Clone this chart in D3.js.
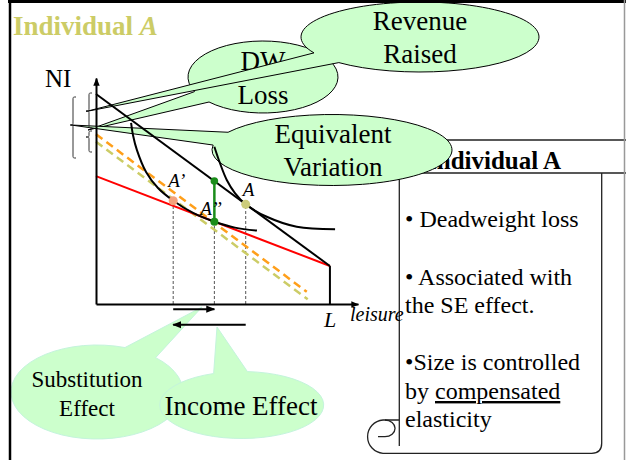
<!DOCTYPE html>
<html><head><meta charset="utf-8">
<script src="https://cdn.jsdelivr.net/npm/d3@7"></script>
<style>
html,body{margin:0;padding:0;background:#fff;}
svg{display:block;font-family:"Liberation Serif","Times New Roman",serif;}
</style></head>
<body><svg id="c" width="626" height="460"></svg>
<script>
// ---- data (leisure units on x, net income units on y) ----
const leisureDomain = [0, 11.2];
const incomeDomain = [0, 10];
const endowmentL = 10;
const budgetOriginal = [[0, 9.29], [10, 1.68]];
const budgetTaxed = [[0, 5.66], [10, 1.68]];
const evLineOrange = [[0, 7.51], [9.01, 0.54]];
const evLineKhaki = [[0, 7.18], [9.05, 0.21]];
const icLow = [[1.50,8.01],[1.58,7.48],[1.75,6.81],[2.14,5.84],[2.65,5.13],[3.29,4.58],[4.15,4.03],[5.04,3.65],[5.94,3.38],[6.88,3.25]];
const icHigh = [[5.06,6.96],[5.30,6.23],[5.59,5.49],[5.94,4.91],[6.40,4.41],[7.30,3.86],[8.58,3.42],[10.22,3.31]];
const pointA = [6.40, 4.41];
const pointA1 = [3.30, 4.57];
const pointA2 = [5.06, 3.64];
const dwTop = [5.06, 5.44];
const seArrow = [[3.30, -0.23], [5.06, -0.23]];
const ieArrow = [[6.40, -0.92], [3.30, -0.92]];
const bulletLines = ["• Deadweight loss", "• Associated with", "the SE effect.", "•Size is controlled", "by ", "elasticity"];

const svg = d3.select("#c");
const x = d3.scaleLinear().domain(leisureDomain).range([96, 358]);
const y = d3.scaleLinear().domain(incomeDomain).range([304, 78]);
const line = d3.line().x(d => x(d[0])).y(d => y(d[1]));
const curve = d3.line().x(d => x(d[0])).y(d => y(d[1])).curve(d3.curveCatmullRom.alpha(0.5));

const defs = svg.append("defs");
defs.append("marker").attr("id","arr").attr("viewBox","0 0 10 10").attr("refX",9).attr("refY",5)
  .attr("markerWidth",4).attr("markerHeight",4).attr("markerUnits","strokeWidth").attr("orient","auto")
  .append("path").attr("d","M0,1 L10,5 L0,9 Z").attr("fill","#000");
defs.append("marker").attr("id","arr2").attr("viewBox","0 0 10 10").attr("refX",9).attr("refY",5)
  .attr("markerWidth",4.5).attr("markerHeight",4.5).attr("markerUnits","strokeWidth").attr("orient","auto")
  .append("path").attr("d","M0,1 L10,5 L0,9 Z").attr("fill","#000");

// ---- title ----
const t = svg.append("text").attr("x",13).attr("y",35).attr("font-size",27).attr("font-weight","bold").attr("fill","#cccc66");
t.append("tspan").text("Individual ");
t.append("tspan").attr("font-style","italic").text("A");

// ---- scroll ----
const sc = svg.append("g").attr("fill","none").attr("stroke","#222").attr("stroke-width",1.3);
sc.append("rect").attr("x",399.3).attr("y",173).attr("width",202.4).attr("height",280.3).attr("fill","#fff").attr("stroke","none");
sc.append("rect").attr("x",398).attr("y",140).attr("width",240).attr("height",33).attr("rx",10).attr("fill","#fff");
sc.append("path").attr("d","M601.7,173 V443.3 Q601.7,453.3 591.7,453.3 H383 A16.7,16.7 0 0 1 383,420 H399.3");
sc.append("path").attr("d","M399.3,173 V446");
sc.append("path").attr("d","M385,420 A10,8.3 0 0 1 385,436.7 H378");
svg.append("text").attr("x",427).attr("y",169).attr("font-size",25).attr("font-weight","bold").attr("fill","#000").text("Individual A");
const bl = svg.append("g").attr("font-size",24).attr("fill","#000");
const bY = [226.7, 285, 313, 370, 399, 427];
bulletLines.forEach((s,i) => {
  const tx = bl.append("text").attr("x",405).attr("y",bY[i]).text(s);
  if (i === 4) tx.append("tspan").attr("text-decoration","underline").text("compensated");
});

// ---- callouts ----
function callout(cx, cy, rx, ry, a1, a2, tx, ty) {
  const p = a => [cx + rx*Math.cos(a*Math.PI/180), cy + ry*Math.sin(a*Math.PI/180)];
  const [x1,y1] = p(a1), [x2,y2] = p(a2);
  return `M${x1},${y1} A${rx},${ry} 0 1 1 ${x2},${y2} L${tx},${ty} Z`;
}
const fillG = "#ccffcc";
// bottom callouts
svg.append("path").attr("d",callout(97,392,86,47,313,289,202,307)).attr("fill",fillG).attr("stroke","#c4f4dc").attr("stroke-width",1);
svg.append("path").attr("d",callout(241.7,405,82,33.5,274,250,217,327)).attr("fill",fillG).attr("stroke","#c4f4dc").attr("stroke-width",1);
const bt = svg.append("g").attr("fill","#000").attr("text-anchor","middle");
bt.append("text").attr("x",87).attr("y",386.5).attr("font-size",23).text("Substitution");
bt.append("text").attr("x",87).attr("y",416).attr("font-size",23).text("Effect");
bt.append("text").attr("x",241).attr("y",415).attr("font-size",27).text("Income Effect");

// top callouts
svg.append("path").attr("d",callout(263,77,75,36,156,136,88,130)).attr("fill",fillG).attr("stroke","#000").attr("stroke-width",1);
svg.append("text").attr("x",263).attr("y",70).attr("font-size",27).attr("text-anchor","middle").text("DW");
svg.append("text").attr("x",263).attr("y",103.5).attr("font-size",27).attr("text-anchor","middle").text("Loss");
svg.append("path").attr("d",callout(420,37,119,35,153,133,86,111.5)).attr("fill",fillG).attr("stroke","#000").attr("stroke-width",1);
svg.append("text").attr("x",420).attr("y",29.5).attr("font-size",27).attr("text-anchor","middle").text("Revenue");
svg.append("text").attr("x",420).attr("y",62.5).attr("font-size",27).attr("text-anchor","middle").text("Raised");
svg.append("path").attr("d",callout(332,150,120,35.5,210,188,71,125)).attr("fill",fillG).attr("stroke","#000").attr("stroke-width",1);
svg.append("text").attr("x",333).attr("y",143).attr("font-size",27).attr("text-anchor","middle").text("Equivalent");
svg.append("text").attr("x",333).attr("y",175.5).attr("font-size",27).attr("text-anchor","middle").text("Variation");

// ---- chart ----
const g = svg.append("g");
[pointA1, pointA2, pointA].forEach(p => {
  g.append("line").attr("x1",x(p[0])).attr("x2",x(p[0])).attr("y1",y(0)).attr("y2",y(p[1]))
    .attr("stroke","#555").attr("stroke-width",1).attr("stroke-dasharray","3,2");
});
g.append("path").attr("d",line(evLineKhaki)).attr("stroke","#cccc66").attr("stroke-width",2.5).attr("stroke-dasharray","8,5").attr("fill","none");
g.append("path").attr("d",line(evLineOrange)).attr("stroke","#ff9f1a").attr("stroke-width",2.5).attr("stroke-dasharray","8,5").attr("fill","none");
g.append("path").attr("d",line(budgetTaxed)).attr("stroke","#ff0000").attr("stroke-width",2).attr("fill","none");
g.append("path").attr("d",line(budgetOriginal)).attr("stroke","#000").attr("stroke-width",2).attr("fill","none");
g.append("path").attr("d",curve(icLow)).attr("stroke","#000").attr("stroke-width",2).attr("fill","none");
g.append("path").attr("d",curve(icHigh)).attr("stroke","#000").attr("stroke-width",2).attr("fill","none");
g.append("line").attr("x1",x(endowmentL)).attr("x2",x(endowmentL)).attr("y1",y(0)).attr("y2",y(budgetTaxed[1][1]))
  .attr("stroke","#000").attr("stroke-width",2);
const ax = g.append("g").attr("transform",`translate(${x(0)},0)`).call(d3.axisLeft(y).tickValues([]).tickSizeOuter(0));
ax.select(".domain").attr("stroke","#000").attr("stroke-width",2).attr("marker-end","url(#arr)");
const axb = g.append("g").attr("transform",`translate(0,${y(0)})`).call(d3.axisBottom(x).tickValues([]).tickSizeOuter(0));
axb.select(".domain").attr("stroke","#000").attr("stroke-width",2).attr("marker-end","url(#arr)");
g.append("line").attr("x1",x(dwTop[0])).attr("x2",x(dwTop[0])).attr("y1",y(dwTop[1])).attr("y2",y(pointA2[1]))
  .attr("stroke","#1a8c1a").attr("stroke-width",2.5);
g.append("circle").attr("cx",x(dwTop[0])).attr("cy",y(dwTop[1])).attr("r",3.8).attr("fill","#1a8c1a");
g.append("circle").attr("cx",x(pointA2[0])).attr("cy",y(pointA2[1])).attr("r",4).attr("fill","#1a8c1a");
g.append("circle").attr("cx",x(pointA[0])).attr("cy",y(pointA[1])).attr("r",4.5).attr("fill","#cccc7a");
g.append("circle").attr("cx",x(pointA1[0])).attr("cy",y(pointA1[1])).attr("r",4.5).attr("fill","#f4a27c");
g.append("path").attr("d",line(seArrow)).attr("stroke","#000").attr("stroke-width",2).attr("marker-end","url(#arr2)");
g.append("path").attr("d",line(ieArrow)).attr("stroke","#000").attr("stroke-width",2).attr("marker-end","url(#arr2)");
const lab = g.append("g").attr("font-style","italic").attr("fill","#000").attr("font-size",19);
lab.append("text").attr("x",x(pointA1[0])-5).attr("y",y(pointA1[1])-14).text("A’");
lab.append("text").attr("x",x(pointA2[0])-14).attr("y",y(pointA2[1])-7).text("A’’");
lab.append("text").attr("x",x(pointA[0])-3).attr("y",y(pointA[1])-8).text("A");
lab.append("text").attr("x",x(endowmentL)-6).attr("y",326.5).attr("font-size",22).text("L");
lab.append("text").attr("x",350).attr("y",321).attr("font-size",20).text("leisure");
svg.append("text").attr("x",45).attr("y",87).attr("font-size",25).attr("fill","#000").text("NI");

function brace(bx, y1, y2, ym, w) {
  const h = w/2;
  return `M${bx+w},${y1} C${bx+h},${y1} ${bx+h},${y1} ${bx+h},${y1+h} L${bx+h},${ym-h} C${bx+h},${ym} ${bx+h},${ym} ${bx},${ym} `+
         `C${bx+h},${ym} ${bx+h},${ym} ${bx+h},${ym+h} L${bx+h},${y2-h} C${bx+h},${y2} ${bx+h},${y2} ${bx+w},${y2}`;
}
const br = svg.append("g").attr("fill","none").attr("stroke","#333").attr("stroke-width",1);
br.append("path").attr("d",brace(86,93,128,111,6));
br.append("path").attr("d",brace(86,131,152,137,6));
br.append("path").attr("d",brace(70,97,158,125,6));

svg.append("line").attr("x1",8).attr("x2",626).attr("y1",1.5).attr("y2",1.5).attr("stroke","#000").attr("stroke-width",3);
svg.append("line").attr("x1",10).attr("x2",10).attr("y1",0).attr("y2",460).attr("stroke","#000").attr("stroke-width",2.5);
svg.append("line").attr("x1",624.5).attr("x2",624.5).attr("y1",0).attr("y2",460).attr("stroke","#999").attr("stroke-width",1.5);
</script></body></html>
